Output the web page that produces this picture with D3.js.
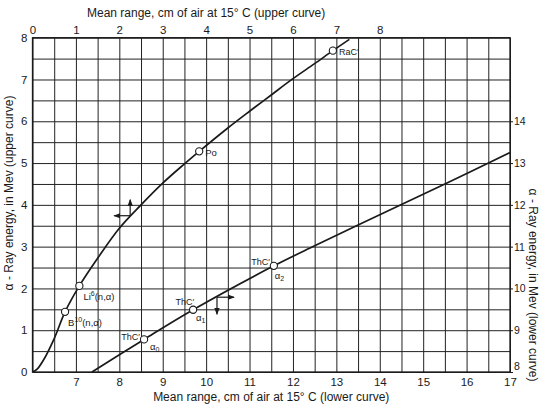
<!DOCTYPE html>
<html>
<head>
<meta charset="utf-8">
<script src="https://cdn.jsdelivr.net/npm/d3@7"></script>
<style>
  html, body { margin: 0; padding: 0; background: #fff; }
  svg { display: block; font-family: "Liberation Sans", Arial, sans-serif; }
</style>
</head>
<body>
<svg id="chart" width="540" height="406"></svg>
<script>
// ---- data ----
// upper curve: range (cm, top axis) vs energy (Mev, left axis)
const upperRange  = [0, 0.1, 0.25, 0.5, 0.75, 1.08, 1.5, 2.0, 2.5, 3.0, 3.5, 3.84, 4.5, 5.0, 5.5, 6.0, 6.5, 6.92, 7.3];
const upperEnergy = [0, 0.06, 0.28, 0.8, 1.44, 2.06, 2.72, 3.44, 4.0, 4.52, 4.98, 5.28, 5.84, 6.24, 6.63, 7.02, 7.38, 7.69, 7.96];
// lower curve: range (cm, bottom axis) vs energy (Mev, right axis)
const lowerRange  = [7.37, 8.57, 9.7, 11.56, 12.5, 13.5, 15.5, 17];
const lowerEnergy = [8.0, 8.78, 9.49, 10.54, 11.02, 11.52, 12.5, 13.25];
// marked points
const upperMarkRange  = [0.75, 1.08, 3.84, 6.92];
const upperMarkEnergy = [1.44, 2.06, 5.28, 7.69];
const upperMarkName   = ["B10", "Li6", "Po", "RaC'"];
const lowerMarkRange  = [8.57, 9.7, 11.56];
const lowerMarkEnergy = [8.78, 9.49, 10.54];
const lowerMarkSub    = ["0", "1", "2"];
// tick labels
const topTicks    = [0, 1, 2, 3, 4, 5, 6, 7, 8];
const bottomTicks = [7, 8, 9, 10, 11, 12, 13, 14, 15, 16, 17];
const leftTicks   = [0, 1, 2, 3, 4, 5, 6, 7, 8];
const rightTicks  = [8, 9, 10, 11, 12, 13, 14];
const topTitle    = "Mean range, cm of air at 15\u00b0 C  (upper curve)";
const bottomTitle = "Mean range, cm of air at 15\u00b0 C  (lower curve)";
const leftTitle   = "\u03b1 - Ray energy, in Mev  (upper curve)";
const rightTitle  = "\u03b1 - Ray energy, in Mev  (lower curve)";

// ---- layout ----
const L = 32.5, R = 510, T = 37.7, B = 372;
const svg = d3.select("#chart");
const xTop = d3.scaleLinear().domain([0, 11]).range([L, R]);
const xBot = d3.scaleLinear().domain([6, 17]).range([L, R]);
const yLeft = d3.scaleLinear().domain([0, 8]).range([B, T]);
const yRight = d3.scaleLinear().domain([8, 16]).range([B, T]);
const ink = "#1a1a1a";

// grid (every 0.5 unit)
const gridX = d3.range(6, 17.01, 0.5);
const gridY = d3.range(0, 8.01, 0.5);
svg.append("g").attr("transform", `translate(0,${B})`)
  .call(d3.axisBottom(xBot).tickValues(gridX).tickSize(-(B - T)).tickFormat(""))
  .call(g => g.select(".domain").remove())
  .call(g => g.selectAll("line").attr("stroke", "#222").attr("stroke-width", 1));
svg.append("g").attr("transform", `translate(${L},0)`)
  .call(d3.axisLeft(yLeft).tickValues(gridY).tickSize(-(R - L)).tickFormat(""))
  .call(g => g.select(".domain").remove())
  .call(g => g.selectAll("line").attr("stroke", "#222").attr("stroke-width", 1));

// frame
svg.append("rect").attr("x", L).attr("y", T).attr("width", R - L).attr("height", B - T)
  .attr("fill", "none").attr("stroke", ink).attr("stroke-width", 1.3);

// axis labels
const fontTick = 11.5;
svg.append("g").attr("transform", `translate(0,${T - 4})`)
  .call(d3.axisTop(xTop).tickValues(topTicks).tickSize(0).tickPadding(0).tickFormat(d3.format("d")))
  .call(g => g.select(".domain").remove())
  .call(g => g.selectAll("text").attr("font-size", fontTick).attr("fill", ink).attr("font-family", null));
svg.append("g").attr("transform", `translate(0,${B + 4})`)
  .call(d3.axisBottom(xBot).tickValues(bottomTicks).tickSize(0).tickPadding(2).tickFormat(d3.format("d")))
  .call(g => g.select(".domain").remove())
  .call(g => g.selectAll("text").attr("font-size", fontTick).attr("fill", ink).attr("font-family", null));
svg.append("g").attr("transform", `translate(${L - 5},0)`)
  .call(d3.axisLeft(yLeft).tickValues(leftTicks).tickSize(0).tickPadding(0).tickFormat(d3.format("d")))
  .call(g => g.select(".domain").remove())
  .call(g => g.selectAll("text").attr("font-size", fontTick).attr("fill", ink).attr("font-family", null));
svg.append("g").attr("transform", `translate(${R},0)`)
  .call(d3.axisRight(yRight).tickValues(rightTicks).tickSize(3).tickPadding(1).tickFormat(d3.format("d")))
  .call(g => g.select(".domain").remove())
  .call(g => g.selectAll("line").attr("stroke", ink))
  .call(g => g.selectAll("text").attr("font-size", 10.5).attr("fill", ink).attr("font-family", null))
  .call(g => g.selectAll(".tick").filter(d => d === 8).select("text").attr("dy", "-0.2em"));

// titles
svg.append("text").attr("x", (xTop(0) + xTop(8)) / 2).attr("y", 17).attr("text-anchor", "middle")
  .attr("font-size", 12).attr("fill", ink).text(topTitle);
svg.append("text").attr("x", (L + R) / 2).attr("y", 401).attr("text-anchor", "middle")
  .attr("font-size", 12).attr("fill", ink).text(bottomTitle);
svg.append("text").attr("transform", "translate(13,193) rotate(-90)").attr("text-anchor", "middle")
  .attr("font-size", 12).attr("fill", ink).text(leftTitle);
svg.append("text").attr("transform", "translate(529,285) rotate(90)").attr("text-anchor", "middle")
  .attr("font-size", 12).attr("fill", ink).text(rightTitle);

// curves
const upperPts = upperRange.map((r, i) => [xTop(r), yLeft(upperEnergy[i])]);
const lowerPts = lowerRange.map((r, i) => [xBot(r), yRight(lowerEnergy[i])]);
const line = d3.line().curve(d3.curveCatmullRom.alpha(0.5));
svg.append("path").attr("d", line(upperPts)).attr("fill", "none").attr("stroke", ink).attr("stroke-width", 1.7);
svg.append("path").attr("d", line(lowerPts)).attr("fill", "none").attr("stroke", ink).attr("stroke-width", 1.7);

// markers
const upperM = upperMarkRange.map((r, i) => ({x: xTop(r), y: yLeft(upperMarkEnergy[i]), n: upperMarkName[i]}));
const lowerM = lowerMarkRange.map((r, i) => ({x: xBot(r), y: yRight(lowerMarkEnergy[i]), s: lowerMarkSub[i]}));
svg.selectAll("circle.m").data(upperM.concat(lowerM)).join("circle").attr("class", "m")
  .attr("cx", d => d.x).attr("cy", d => d.y).attr("r", 3.6)
  .attr("fill", "#fff").attr("stroke", ink).attr("stroke-width", 1.1);

// marker labels
const fs = 9.5;
function nucLabel(x, y, sym, mass) {
  const t = svg.append("text").attr("x", x).attr("y", y).attr("font-size", fs).attr("fill", ink);
  t.append("tspan").text(sym);
  t.append("tspan").attr("dy", -4).attr("font-size", 7).text(mass);
  t.append("tspan").attr("dy", 4).text("(n,\u03b1)");
}
upperM.forEach(d => {
  if (d.n === "B10") nucLabel(d.x + 3, d.y + 14, "B", "10");
  else if (d.n === "Li6") nucLabel(d.x + 4, d.y + 14, "Li", "6");
  else if (d.n === "Po") svg.append("text").attr("x", d.x + 6).attr("y", d.y + 5).attr("font-size", fs).attr("fill", ink).text("Po");
  else svg.append("text").attr("x", d.x + 6).attr("y", d.y + 4).attr("font-size", 9).attr("fill", ink).text("RaC\u2032");
});
const thcOff = [{tx: -4, ty: 1, ax: 6, ay: 11}, {tx: 1, ty: -5, ax: 3, ay: 11}, {tx: -4, ty: -1, ax: 1, ay: 13}];
lowerM.forEach((d, i) => {
  const o = thcOff[i];
  svg.append("text").attr("x", d.x + o.tx).attr("y", d.y + o.ty).attr("text-anchor", "end")
    .attr("font-size", 9).attr("fill", ink).text("ThC\u2032");
  const t = svg.append("text").attr("x", d.x + o.ax).attr("y", d.y + o.ay).attr("font-size", fs).attr("fill", ink);
  t.append("tspan").text("\u03b1");
  t.append("tspan").attr("dy", 2).attr("font-size", 7).text(d.s);
});

// axis-direction arrows
svg.append("defs").append("marker").attr("id", "ah").attr("viewBox", "0 0 8 8").attr("refX", 7).attr("refY", 4)
  .attr("markerWidth", 6).attr("markerHeight", 6).attr("orient", "auto")
  .append("path").attr("d", "M0,1 L8,4 L0,7 Z").attr("fill", ink);
function arrow(x1, y1, x2, y2) {
  svg.append("line").attr("x1", x1).attr("y1", y1).attr("x2", x2).attr("y2", y2)
    .attr("stroke", ink).attr("stroke-width", 1.2).attr("marker-end", "url(#ah)");
}
// upper curve: points to left axis and top axis
const cu = [xTop(2.25), yLeft(3.74)];
arrow(cu[0], cu[1], cu[0] - 16, cu[1]);
arrow(cu[0], cu[1], cu[0], cu[1] - 16);
// lower curve: points to right axis and bottom axis
const cl = [xBot(10.25), yRight(9.79)];
arrow(cl[0], cl[1], cl[0] + 17, cl[1]);
arrow(cl[0], cl[1], cl[0], cl[1] + 17);
</script>
</body>
</html>
